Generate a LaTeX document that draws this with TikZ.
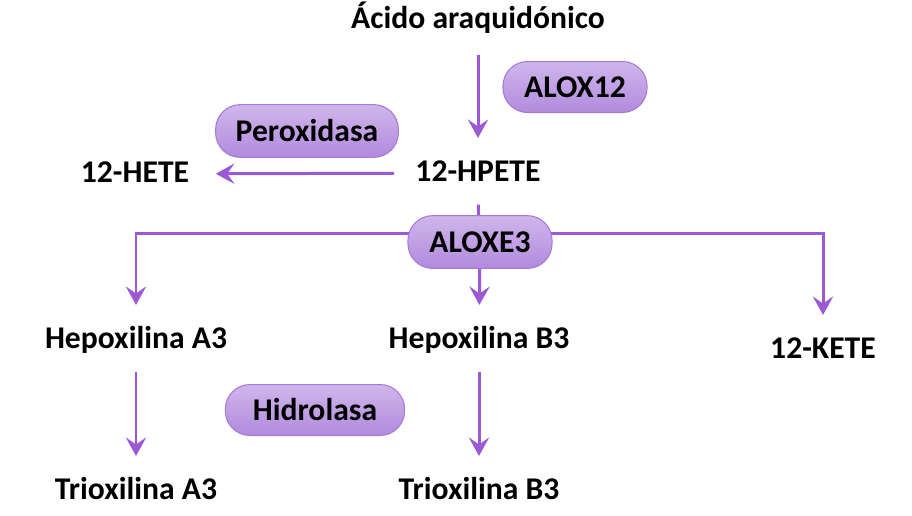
\documentclass[tikz,border=0pt]{standalone}
\usepackage{fontspec}
\setmainfont{Carlito}
\usetikzlibrary{positioning, arrows.meta, backgrounds}
\definecolor{pillTop}{HTML}{CFB6EB}
\definecolor{pillBottom}{HTML}{B28ADD}
\definecolor{pillBorder}{HTML}{A57AD6}
\definecolor{arrowColor}{HTML}{9B59D6}
\tikzset{
  metabolite/.style={font=\fontsize{18}{21}\selectfont\bfseries, text=black,
    inner sep=2pt, text height=12.5pt, text depth=3pt},
  enzyme/.style={draw=pillBorder, top color=pillTop, bottom color=pillBottom,
    rounded corners=14pt, minimum width=82pt, minimum height=29pt, line width=0.6pt,
    font=\fontsize{18}{21}\selectfont\bfseries, text=black, align=center},
  flow/.style={-{Stealth[length=10.5pt, width=11.5pt, inset=4pt]}, line width=1.7pt,
    color=arrowColor},
  branch/.style={line width=1.7pt, color=arrowColor},
}

\begin{document}
\begin{tikzpicture}[x=0.02cm, y=-0.02cm]
  \useasboundingbox (0,0) rectangle (912,515);

  % === Metabolites ===
  \node[metabolite] (aa) at (478,20) {Ácido araquidónico};
  \node[metabolite] (hpete) at (478,173) {12-HPETE};
  \node[metabolite] (hete) at (135,174) {12-HETE};
  \node[metabolite] (hepA) at (136,340) {Hepoxilina A3};
  \node[metabolite] (hepB) at (479,340) {Hepoxilina B3};
  \node[metabolite] (kete) at (823,350) {12-KETE};
  \node[metabolite] (trioA) at (136,491) {Trioxilina A3};
  \node[metabolite] (trioB) at (479,491) {Trioxilina B3};

  % === Enzymes ===
  \node[enzyme] (alox12) at (575,87) {ALOX12};
  \node[enzyme, minimum width=104pt, minimum height=30pt] (perox) at (307,131) {Peroxidasa};
  \node[enzyme, minimum height=30pt] (aloxe3) at (480,242) {ALOXE3};
  \node[enzyme, minimum width=102pt] (hidro) at (315,410) {Hidrolasa};

  % branching point behind ALOXE3
  \coordinate (split) at (479,233);

  % === Arrows ===
  \begin{scope}[on background layer]
    \draw[flow, shorten <=10pt, shorten >=10pt] (aa) -- (hpete);
    \draw[flow, shorten <=10pt, shorten >=13pt] (hpete) -- (hete);
    \draw[branch, shorten <=8pt] (hpete.south) -- (split);
    \draw[flow, shorten >=10pt] (split) -| (hepA);
    \draw[flow, shorten >=10pt] (split) -| (kete);
    \draw[flow, shorten >=10pt] (aloxe3) -- (hepB);
    \draw[flow, shorten <=8pt, shorten >=10pt] (hepA) -- (trioA);
    \draw[flow, shorten <=8pt, shorten >=10pt] (hepB) -- (trioB);
  \end{scope}

\end{tikzpicture}
\end{document}
